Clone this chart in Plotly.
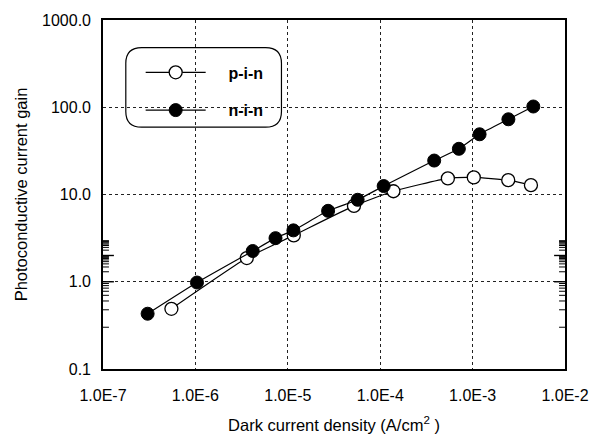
import math
import plotly.graph_objects as go

# ---- data ----
pin_current = [5.5e-7, 3.6e-6, 1.16e-5, 5.2e-5, 1.39e-4, 5.4e-4, 1.03e-3, 2.43e-3, 4.28e-3]
pin_gain = [0.49, 1.87, 3.4, 7.4, 10.9, 15.3, 15.7, 14.6, 12.8]

nin_current = [3.04e-7, 1.04e-6, 4.17e-6, 7.36e-6, 1.15e-5, 2.73e-5, 5.7e-5, 1.09e-4,
               3.84e-4, 7.1e-4, 1.19e-3, 2.44e-3, 4.54e-3]
nin_gain = [0.43, 0.98, 2.25, 3.16, 3.88, 6.5, 8.7, 12.5, 24.5, 33.4, 49, 72.8, 102]

x_tickvals = [1e-7, 1e-6, 1e-5, 1e-4, 1e-3, 1e-2]
x_ticktext = ["1.0E-7", "1.0E-6", "1.0E-5", "1.0E-4", "1.0E-3", "1.0E-2"]
y_tickvals = [0.1, 1, 10, 100, 1000]
y_ticktext = ["0.1", "1.0", "10.0", "100.0", "1000.0"]

x_minor = [m * 10.0 ** e for e in range(-7, -2) for m in range(2, 10)]
y_minor = [m * 10.0 ** e for e in range(-1, 3) for m in range(2, 10)]

W, H = 601, 444
ML, MR, MT, MB = 103, 32, 18, 71
PW, PH = W - ML - MR, H - MT - MB

FONT = "Liberation Sans, Arial, sans-serif"
NB = "\u00a0"

fig = go.Figure()
fig.add_trace(go.Scatter(
    x=pin_current, y=pin_gain, name=NB * 4 + "p-i-n", mode="lines+markers",
    legendgroup="a",
    line=dict(color="black", width=1.2, shape="spline", smoothing=0.5),
    marker=dict(symbol="circle", size=13, color="white",
                line=dict(color="black", width=1.3)),
))
fig.add_trace(go.Scatter(
    x=nin_current, y=nin_gain, name=NB * 4 + "n-i-n", mode="lines+markers",
    legendgroup="b",
    line=dict(color="black", width=1.2, shape="spline", smoothing=0.5),
    marker=dict(symbol="circle", size=13, color="black",
                line=dict(color="black", width=1)),
))

# inside tick marks on all four sides (axis decoration), placed at the tick values
def x_tick(v, length, width):
    lv = math.log10(v)
    f = length / PH
    for a, b in ((0, f), (1, 1 - f)):
        fig.add_shape(type="line", xref="x", x0=lv, x1=lv, yref="paper", y0=a, y1=b,
                      line=dict(color="black", width=width))

def y_tick(v, length, width):
    lv = math.log10(v)
    f = length / PW
    for a, b in ((0, f), (1, 1 - f)):
        fig.add_shape(type="line", yref="y", y0=lv, y1=lv, xref="paper", x0=a, x1=b,
                      line=dict(color="black", width=width))

for v in x_minor:
    x_tick(v, 6, 1)
for v in x_tickvals[1:-1]:
    x_tick(v, 11, 1.4)
for v in y_minor:
    y_tick(v, 6, 1)
for v in y_tickvals[1:-1]:
    y_tick(v, 11, 1.4)

def px2paper(px, py):
    return (px - ML) / PW, (H - MB - py) / PH

# rounded legend frame
x0, y0, x1, y1, r = 126, 46, 283, 127, 16
def P(px, py):
    a, b = px2paper(px, py)
    return f"{a:.5f},{b:.5f}"
path = (f"M {P(x0 + r, y0)} L {P(x1 - r, y0)} Q {P(x1, y0)} {P(x1, y0 + r)} "
        f"L {P(x1, y1 - r)} Q {P(x1, y1)} {P(x1 - r, y1)} "
        f"L {P(x0 + r, y1)} Q {P(x0, y1)} {P(x0, y1 - r)} "
        f"L {P(x0, y0 + r)} Q {P(x0, y0)} {P(x0 + r, y0)} Z")
fig.add_shape(type="path", path=path, xref="paper", yref="paper",
              line=dict(color="black", width=1.2), fillcolor="rgba(0,0,0,0)")

lx, ly = px2paper(141, 54)

fig.update_layout(
    width=W, height=H,
    margin=dict(l=ML, r=MR, t=MT, b=MB),
    paper_bgcolor="white", plot_bgcolor="white",
    xaxis=dict(type="log", range=[-7, -2], tickvals=x_tickvals, ticktext=x_ticktext,
               ticks="", mirror=True,
               showline=True, linecolor="black", linewidth=1.6,
               showgrid=True, gridcolor="#222", gridwidth=1, griddash="dot",
               zeroline=False,
               tickfont=dict(family=FONT, size=16, color="black"),
               ticklabelstandoff=11,
               title=dict(text="Dark current density (A/cm<sup>2</sup> )",
                          font=dict(family=FONT, size=16.5, color="black"), standoff=16)),
    yaxis=dict(type="log", range=[-1, 3], tickvals=y_tickvals, ticktext=y_ticktext,
               ticks="", mirror=True,
               showline=True, linecolor="black", linewidth=1.6,
               showgrid=True, gridcolor="#222", gridwidth=1, griddash="dot",
               zeroline=False,
               tickfont=dict(family=FONT, size=16, color="black"),
               ticklabelstandoff=7,
               title=dict(text="Photoconductive current gain",
                          font=dict(family=FONT, size=16.5, color="black"), standoff=10)),
    showlegend=True,
    legend=dict(x=lx, y=ly, xanchor="left", yanchor="top",
                bgcolor="rgba(0,0,0,0)", borderwidth=0,
                tracegroupgap=14, itemwidth=60,
                font=dict(family=FONT, size=16, color="black", weight="bold")),
)
fig.write_html("out.html")
